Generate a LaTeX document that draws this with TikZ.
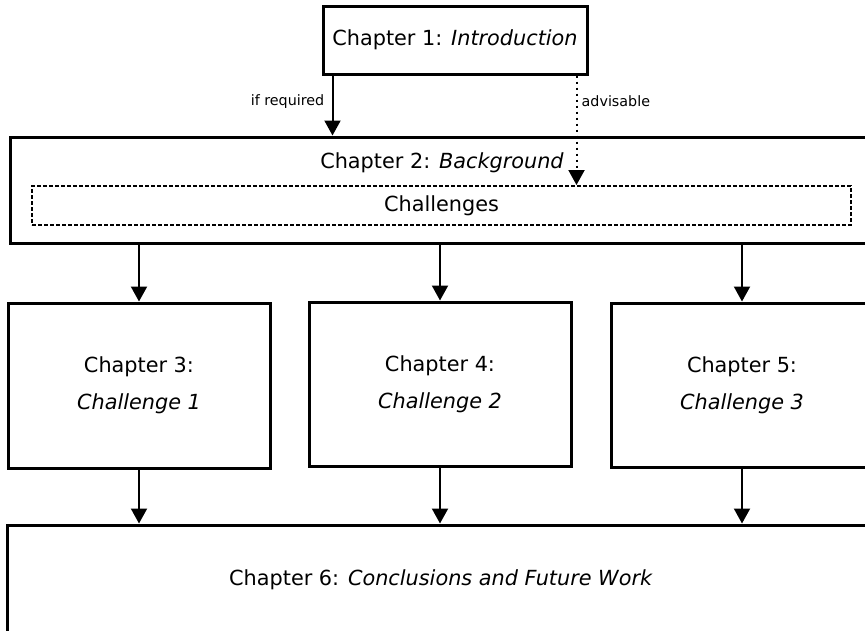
\documentclass[tikz,border=0pt]{standalone}
\usepackage{fontspec}
\setmainfont{DejaVu Sans}
\usetikzlibrary{arrows.meta}

\begin{document}
\begin{tikzpicture}[x=1pt,y=-1pt,
  chapbox/.style={draw, line width=3pt, rectangle, inner sep=0pt, align=center,
    font=\fontsize{20.8}{37}\selectfont},
  maintext/.style={inner sep=0pt, font=\fontsize{20.8}{25}\selectfont},
  lbl/.style={inner sep=0pt, font=\fontsize{14.3}{17}\selectfont},
  arr/.style={line width=2pt, -{Triangle[width=16pt,length=15pt]}},
  dotarr/.style={line width=2pt, dash pattern=on 2pt off 4pt,
    -{Triangle[width=16pt,length=15pt]}},
  challbox/.style={draw, line width=2pt, dash pattern=on 4pt off 2pt,
    rectangle, inner sep=0pt}]

\useasboundingbox (0,0) rectangle (865,630);
\clip (0,0) rectangle (865,630);

% chapter boxes
\node[chapbox, minimum width=264pt, minimum height=68pt] (ch1) at (455,40)
  {Chapter 1: \textit{Introduction}};
\node[chapbox, minimum width=863pt, minimum height=106pt] (ch2) at (441.5,190) {};
\node[maintext] (ch2title) at (442,163) {Chapter 2: \textit{Background}};
\node[challbox, minimum width=819pt, minimum height=39pt, maintext] (chal) at (441.5,205.5)
  {Challenges};

\node[chapbox, minimum width=262pt, minimum height=165pt] (ch3) at (139,385.5)
  {Chapter 3:\\\textit{Challenge 1}};
\node[chapbox, minimum width=262pt, minimum height=164pt] (ch4) at (440,384)
  {Chapter 4:\\\textit{Challenge 2}};
\node[chapbox, minimum width=262pt, minimum height=164pt] (ch5) at (742,385)
  {Chapter 5:\\\textit{Challenge 3}};

\node[chapbox, minimum width=868pt, minimum height=110pt] (ch6) at (441,580)
  {Chapter 6: \textit{Conclusions and Future Work}};

% introduction to background
\coordinate (reqtop) at ([xshift=11pt]ch1.south west);
\coordinate (advtop) at ([xshift=-12pt]ch1.south east);
\draw[arr] (reqtop) -- (reqtop |- ch2.north);
\draw[dotarr] (advtop) -- (advtop |- chal.north);
\node[lbl, anchor=east] (lreq) at ([xshift=-8pt,yshift=-26pt]reqtop) {if required};
\node[lbl, anchor=west] (ladv) at ([xshift=5pt,yshift=-26pt]advtop) {advisable};

% background to the challenge chapters
\foreach \c in {ch3,ch4,ch5} {
  \draw[arr] (ch2.south -| \c.north) -- (\c.north);
  \draw[arr] (\c.south) -- (\c.south |- ch6.north);
}
\end{tikzpicture}
\end{document}
